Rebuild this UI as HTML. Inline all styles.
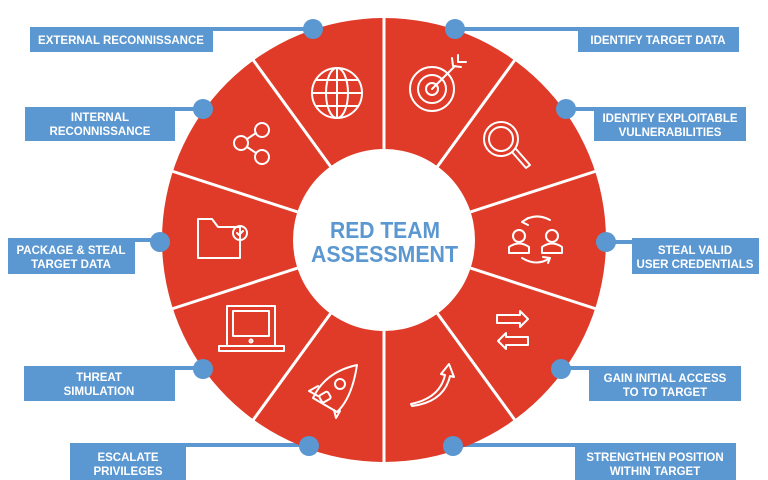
<!DOCTYPE html>
<html><head><meta charset="utf-8"><style>
html,body{margin:0;padding:0;background:#fff;width:768px;height:480px;overflow:hidden}
svg{display:block}
.lb{font-family:"Liberation Sans",sans-serif;font-weight:bold;font-size:11.5px;fill:#fff;text-anchor:middle}
.ic{fill:none;stroke:#fff;stroke-width:2;stroke-linecap:round;stroke-linejoin:round}
</style></head><body>
<svg width="768" height="480" viewBox="0 0 768 480">
<g fill="#5b97d0">
<rect x="30" y="27" width="183" height="25"/>
<rect x="25" y="107" width="150" height="34"/>
<rect x="8" y="238" width="127" height="36"/>
<rect x="24" y="366" width="151" height="35"/>
<rect x="70" y="443" width="116" height="37"/>
<rect x="578" y="27" width="161" height="25"/>
<rect x="594" y="107" width="152" height="34"/>
<rect x="632" y="238" width="127" height="36"/>
<rect x="589" y="366" width="152" height="35"/>
<rect x="575" y="443" width="161" height="37"/>
<rect x="213" y="27" width="100" height="4"/>
<rect x="175" y="107" width="28" height="4"/>
<rect x="135" y="238" width="25" height="4"/>
<rect x="175" y="366" width="28" height="4"/>
<rect x="186" y="443" width="128" height="4"/>
<rect x="455" y="27" width="123" height="4"/>
<rect x="565" y="107" width="29" height="4"/>
<rect x="606" y="240" width="26" height="4"/>
<rect x="561" y="366" width="28" height="4"/>
<rect x="453" y="443" width="122" height="4"/>
</g>
<circle cx="384" cy="240" r="222" fill="#e03a28"/>
<g stroke="#fff" stroke-width="3">
<line x1="384" y1="240" x2="384" y2="15"/>
<line x1="384" y1="240" x2="384" y2="465"/>
<line x1="384" y1="240" x2="516.3" y2="58"/>
<line x1="384" y1="240" x2="251.7" y2="58"/>
<line x1="384" y1="240" x2="516.3" y2="422"/>
<line x1="384" y1="240" x2="251.7" y2="422"/>
<line x1="384" y1="240" x2="598" y2="170.5"/>
<line x1="384" y1="240" x2="170" y2="170.5"/>
<line x1="384" y1="240" x2="598" y2="309.5"/>
<line x1="384" y1="240" x2="170" y2="309.5"/>
</g>
<circle cx="384" cy="240" r="91" fill="#fff"/>
<g fill="#5b97d0">
<circle cx="313" cy="29" r="10"/>
<circle cx="203" cy="109" r="10"/>
<circle cx="160" cy="242" r="10"/>
<circle cx="203" cy="369" r="10"/>
<circle cx="309" cy="446" r="10"/>
<circle cx="455" cy="29" r="10"/>
<circle cx="566" cy="109" r="10"/>
<circle cx="606" cy="242" r="10"/>
<circle cx="561" cy="369" r="10"/>
<circle cx="453" cy="446" r="10"/>
</g>
<text x="330" y="238" textLength="110" lengthAdjust="spacingAndGlyphs" font-family="Liberation Sans,sans-serif" font-weight="bold" font-size="23" fill="#5b97d0">RED TEAM</text>
<text x="311" y="262" textLength="147" lengthAdjust="spacingAndGlyphs" font-family="Liberation Sans,sans-serif" font-weight="bold" font-size="23" fill="#5b97d0">ASSESSMENT</text>
<text class="lb" x="121" y="44">EXTERNAL RECONNISSANCE</text>
<text class="lb" x="100" y="121">INTERNAL</text><text class="lb" x="100" y="135">RECONNISSANCE</text>
<text class="lb" x="71" y="254">PACKAGE &amp; STEAL</text><text class="lb" x="71" y="268">TARGET DATA</text>
<text class="lb" x="99" y="381">THREAT</text><text class="lb" x="99" y="395">SIMULATION</text>
<text class="lb" x="128" y="461">ESCALATE</text><text class="lb" x="128" y="475">PRIVILEGES</text>
<text class="lb" x="658" y="44">IDENTIFY TARGET DATA</text>
<text class="lb" x="670" y="122">IDENTIFY EXPLOITABLE</text><text class="lb" x="670" y="136">VULNERABILITIES</text>
<text class="lb" x="695" y="254">STEAL VALID</text><text class="lb" x="695" y="268">USER CREDENTIALS</text>
<text class="lb" x="665" y="382">GAIN INITIAL ACCESS</text><text class="lb" x="665" y="396">TO TO TARGET</text>
<text class="lb" x="655" y="461">STRENGTHEN POSITION</text><text class="lb" x="655" y="475">WITHIN TARGET</text>
<g class="ic">
<circle cx="337" cy="93" r="25"/><ellipse cx="337" cy="93" rx="11" ry="25"/><line x1="337" y1="68" x2="337" y2="118"/><line x1="312" y1="93" x2="362" y2="93"/><path d="M316 80 H358 M316 106 H358"/>
<circle cx="432" cy="89" r="22"/><circle cx="432" cy="89" r="14"/><circle cx="432" cy="89" r="6"/><line x1="432" y1="89" x2="455" y2="66"/><path d="M452 58 L453 66 L461 67 M458 55 L458 62 L466 62"/>
<circle cx="501" cy="139" r="17"/><circle cx="501" cy="139" r="12"/><path d="M512 152 L526 168 L530 165 L516 149"/>
<circle cx="519" cy="236" r="6"/><path d="M509 253 V247 Q519 240 529 247 V253 Z"/><circle cx="552" cy="236" r="6"/><path d="M542 253 V247 Q552 240 562 247 V253 Z"/><path d="M522 222 Q535 212 550 220 M522 222 l6 -4 M522 222 l6 3"/><path d="M522 258 Q537 267 550 258 M550 258 l-7 -1 M550 258 l-2 5"/>
<path d="M497 315 H520 V311 L528 319 L520 327 V323 H497 Z"/><path d="M528 337 H506 V333 L498 341 L506 349 V345 H528 Z"/>
<path d="M411 404 Q440 398 445 375 L441 374 L449 364 L454 377 L450 376 Q444 402 412 406 Z"/>
<path d="M337 412 L313 398 Q325 372 357 365 Q352 398 337 412 Z"/><circle cx="340" cy="384" r="5"/><rect x="320" y="393" width="10" height="8" rx="2" transform="rotate(-30 325 397)"/><path d="M318 396 L309 391 L318 386 M334 410 L336 418 L340 411"/>
<rect x="227" y="306" width="48" height="40"/><rect x="233" y="311" width="36" height="25"/><circle cx="251" cy="341" r="1.5"/><path d="M219 346 H284 V351 H219 Z"/>
<path d="M198 219 H212 L218 227 H240 V258 H198 Z"/><circle cx="240" cy="233" r="7"/><path d="M237 233 l2 2 l4 -4"/>
<circle cx="262" cy="130" r="7"/><circle cx="241" cy="143" r="7"/><circle cx="262" cy="157" r="7"/><path d="M247 139 L256 133 M247 147 L256 153"/>
</g>
</svg>
</body></html>
